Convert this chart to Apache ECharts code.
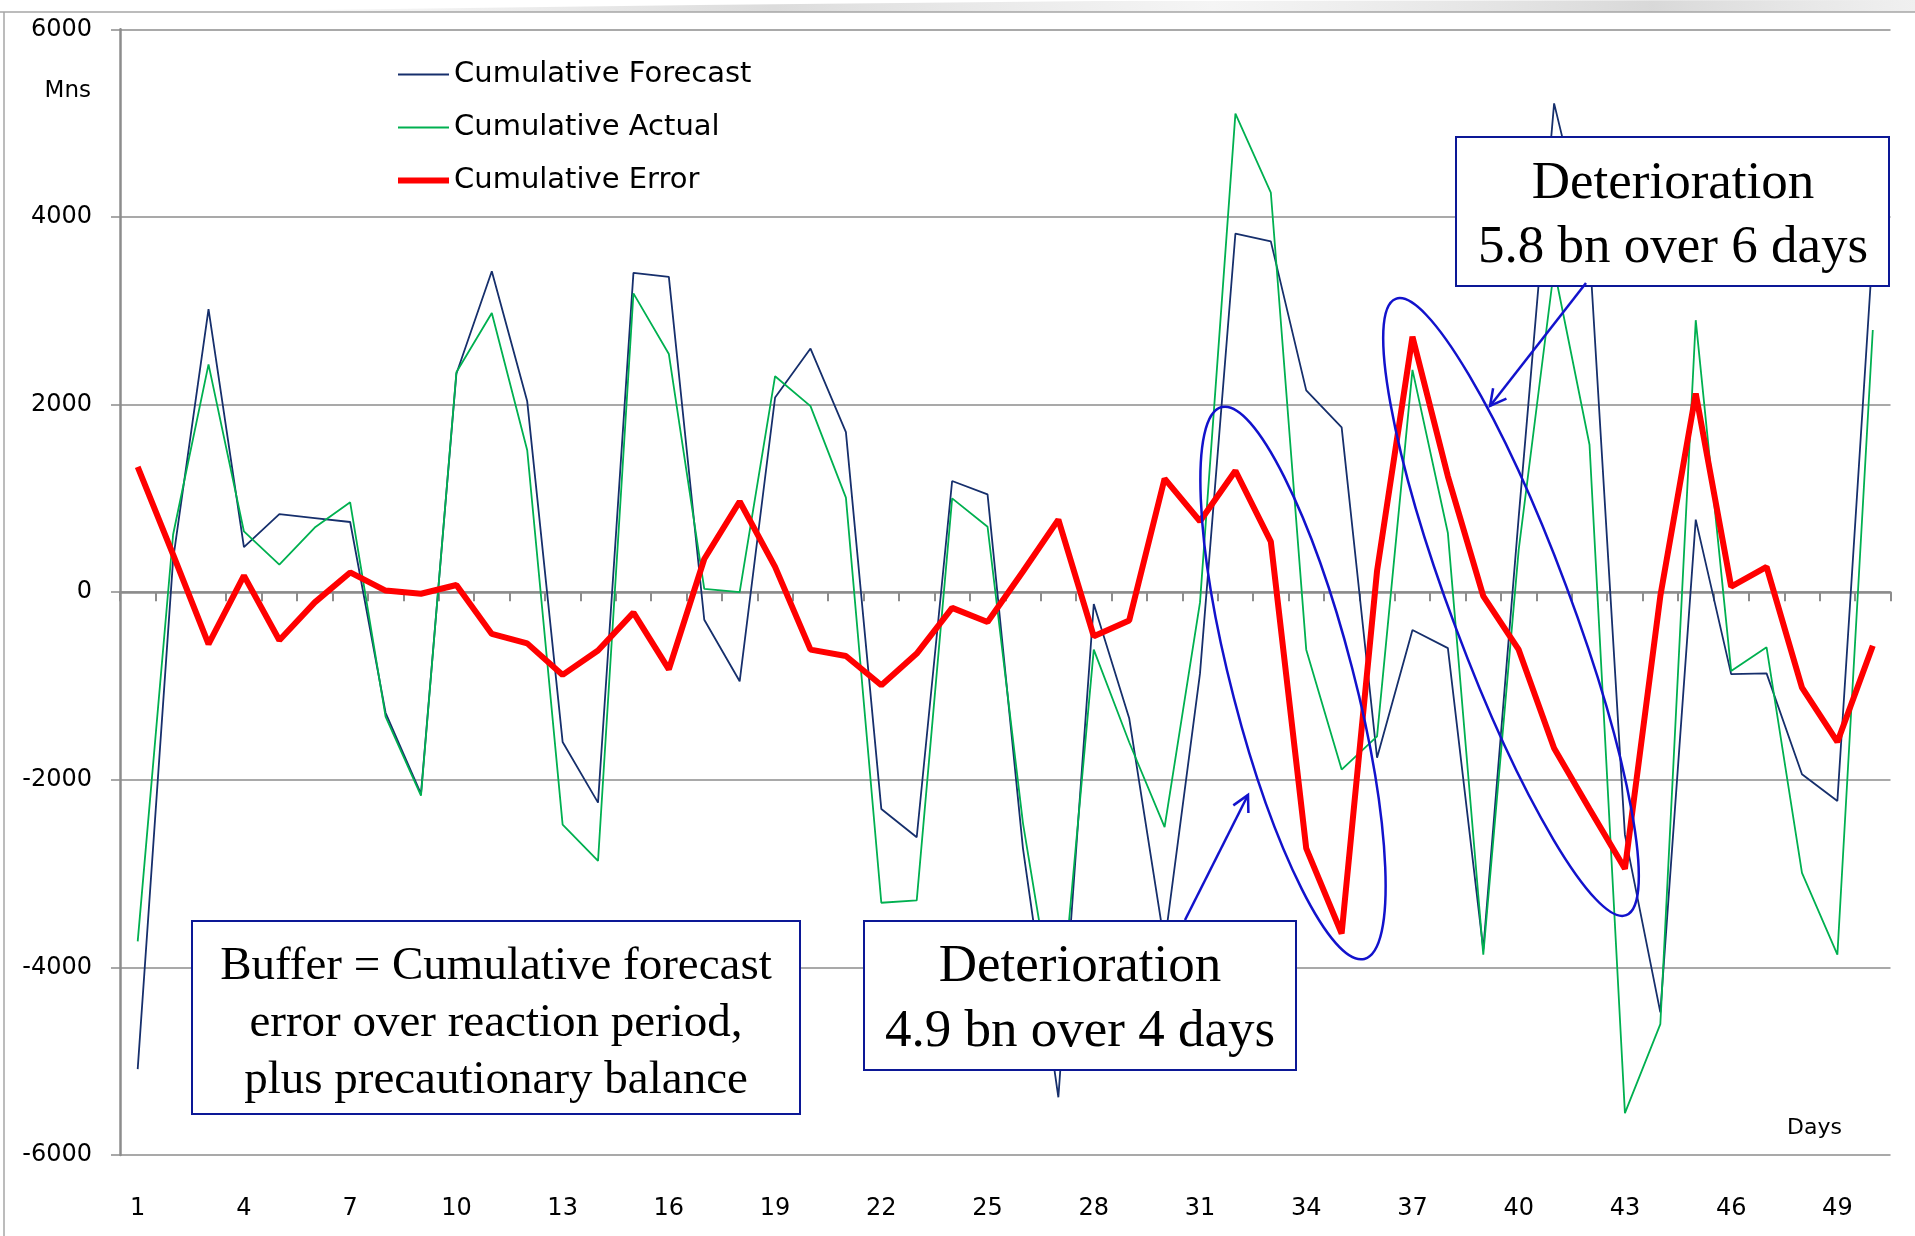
<!DOCTYPE html>
<html>
<head>
<meta charset="utf-8">
<script src="https://cdn.jsdelivr.net/npm/echarts@6/dist/echarts.min.js"></script>
<style>
html, body { margin: 0; padding: 0; background: #ffffff; }
#chart { width: 1915px; height: 1236px; }
</style>
</head>
<body>
<div id="chart"></div>
<script>
// ---------------- data ----------------
const days = [1, 2, 3, 4, 5, 6, 7, 8, 9, 10, 11, 12, 13, 14, 15, 16, 17, 18, 19, 20,
              21, 22, 23, 24, 25, 26, 27, 28, 29, 30, 31, 32, 33, 34, 35, 36, 37, 38, 39, 40,
              41, 42, 43, 44, 45, 46, 47, 48, 49, 50];

const cumulativeForecast = [-5084, 350, 3017, 479, 832, 790, 748, -1286, -2151, 2328,
                            3420, 2034, -1597, -2244, 3403, 3361, -294, -950, 2075, 2597,
                            1706, -2311, -2613, 1185, 1042, -2731, -5385, -126, -1344, -3750,
                            -866, 3823, 3739, 2151, 1756, -1765, -403, -597, -3807, 800,
                            5210, 3650, -2588, -4479, 773, -874, -866, -1941, -2227, 3650];

const cumulativeActual = [-3723, 615, 2428, 647, 294, 689, 958, -1328, -2170, 2344,
                          2975, 1513, -2479, -2865, 3185, 2538, 34, 0, 2302, 1983,
                          1008, -3311, -3286, 1000, 697, -2462, -4750, -613, -1600, -2504,
                          -109, 5101, 4260, -613, -1891, -1538, 2370, 630, -3865, 450,
                          3450, 1571, -5554, -4605, 2899, -840, -588, -2992, -3865, 2795];

const cumulativeError = [1336, 400, -555, 176, -513, -109, 210, 17, -17, 76,
                         -445, -546, -882, -622, -218, -823, 353, 966, 269, -613,
                         -681, -992, -655, -168, -319, 220, 773, -471, -303, 1210,
                         756, 1294, 538, -2731, -3639, 227, 2723, 1235, -42, -613,
                         -1664, -2311, -2949, -42, 2118, 59, 269, -1017, -1597, -571];

const seriesNames = ['Cumulative Forecast', 'Cumulative Actual', 'Cumulative Error'];
const yMin = -6000, yMax = 6000, yStep = 2000;
const yUnit = 'Mns';
const xTitle = 'Days';
const bufferNote = ['Buffer = Cumulative forecast', 'error over reaction period,', 'plus precautionary balance'];
const note4 = ['Deterioration', '4.9 bn over 4 days'];
const note6 = ['Deterioration', '5.8 bn over 6 days'];

// ---------------- styling ----------------
const SANS = "'DejaVu Sans', 'Open Sans', sans-serif";
const SERIF = "'Liberation Serif', 'DejaVu Serif', serif";
const GRAY = '#8c8c8c';
const BOX = '#0c1896';
const BLUE = '#1212cc';
const C_FORE = '#162f6c', C_ACT = '#00b050', C_ERR = '#ff0000';

function boxText(lines, cx, ys, size) {
  return lines.map((t, i) => ({
    type: 'text', x: cx, y: ys[i], z: 102,
    style: { text: t, fontFamily: SERIF, fontSize: size, fill: '#000', align: 'center', verticalAlign: 'middle' }
  }));
}
function arrow(x1, y1, x2, y2, len, ang) {
  const dx = x2 - x1, dy = y2 - y1, L = Math.hypot(dx, dy), ux = dx / L, uy = dy / L;
  const barb = a => [x2 - len * (ux * Math.cos(a) - uy * Math.sin(a)),
                     y2 - len * (ux * Math.sin(a) + uy * Math.cos(a))];
  return [
    { type: 'line', z: 103, shape: { x1, y1, x2, y2 }, style: { stroke: BLUE, lineWidth: 2.5 } },
    { type: 'polyline', z: 103, shape: { points: [barb(ang), [x2, y2], barb(-ang)] },
      style: { stroke: BLUE, lineWidth: 2.5, fill: null } }
  ];
}
const deg = Math.PI / 180;

const graphics = [
  // outer frame
  { type: 'polygon', z: 1, shape: { points: [[160, 12], [700, 5], [1100, 1], [1915, 0], [1915, 12]] },
    style: { fill: { type: 'linear', x: 0, y: 0, x2: 1, y2: 0,
      colorStops: [{ offset: 0, color: 'rgba(215,215,215,0)' }, { offset: 0.35, color: 'rgba(205,205,205,0.7)' },
                   { offset: 0.6, color: 'rgba(235,235,235,0.5)' }, { offset: 0.85, color: 'rgba(200,200,200,0.7)' },
                   { offset: 1, color: 'rgba(225,225,225,0.5)' }] } } },
  { type: 'line', z: 2, shape: { x1: 0, y1: 12, x2: 1915, y2: 12 }, style: { stroke: '#a6a6a6', lineWidth: 1.5 } },
  { type: 'line', z: 2, shape: { x1: 4, y1: 12, x2: 4, y2: 1236 }, style: { stroke: '#a6a6a6', lineWidth: 1.5 } },
  // axis titles
  { type: 'text', x: 91, y: 91, z: 5, style: { text: yUnit, fontFamily: SANS, fontSize: 23, fill: '#000', align: 'right', verticalAlign: 'middle' } },
  { type: 'text', x: 1787, y: 1128, z: 5, style: { text: xTitle, fontFamily: SANS, fontSize: 22, fill: '#000', align: 'left', verticalAlign: 'middle' } },
  // boxes
  { type: 'rect', z: 100, shape: { x: 192, y: 921, width: 608, height: 193 }, style: { fill: '#fff', stroke: BOX, lineWidth: 2 } },
  { type: 'rect', z: 100, shape: { x: 864, y: 921, width: 432, height: 149 }, style: { fill: '#fff', stroke: BOX, lineWidth: 2 } },
  { type: 'rect', z: 100, shape: { x: 1456, y: 137, width: 433, height: 149 }, style: { fill: '#fff', stroke: BOX, lineWidth: 2 } },
  ...boxText(bufferNote, 496, [967, 1024, 1081], 47),
  ...boxText(note4, 1080, [967.5, 1032.5], 53),
  ...boxText(note6, 1673, [184, 248], 53),
  // ellipses
  { type: 'ellipse', z: 101, x: 1293, y: 683, rotation: 14.5 * deg, shape: { cx: 0, cy: 0, rx: 61, ry: 285 },
    style: { fill: null, stroke: BLUE, lineWidth: 2.5 } },
  { type: 'ellipse', z: 101, x: 1511, y: 607, rotation: 20.5 * deg, shape: { cx: 0, cy: 0, rx: 59, ry: 329 },
    style: { fill: null, stroke: BLUE, lineWidth: 2.5 } },
  ...arrow(1185, 920, 1248, 795, 18, 28 * deg),
  ...arrow(1586, 283, 1490, 406, 18, 28 * deg)
];

const chart = echarts.init(document.getElementById('chart'));
chart.setOption({
  animation: false,
  backgroundColor: '#ffffff',
  grid: { left: 120, right: 24.5, top: 29.3, bottom: 81 },
  legend: {
    orient: 'vertical', left: 398, top: 60, padding: 0,
    itemWidth: 51, itemHeight: 29, itemGap: 24,
    symbolKeepAspect: true,
    data: [
      { name: seriesNames[0], icon: 'path://M0 0H100V4H0Z' },
      { name: seriesNames[1], icon: 'path://M0 0H100V4H0Z' },
      { name: seriesNames[2], icon: 'path://M0 0H100V12H0Z' }
    ],
    textStyle: { fontFamily: SANS, fontSize: 29, color: '#000' }
  },
  xAxis: [
    {
      type: 'category', data: days, position: 'bottom', boundaryGap: true,
      axisLine: { show: false, onZero: false },
      axisTick: { show: false },
      splitLine: { show: false },
      axisLabel: { interval: 2, margin: 41.5, fontFamily: SANS, fontSize: 24, color: '#000' }
    },
    {
      type: 'category', data: days, position: 'bottom', boundaryGap: true,
      axisLine: { show: true, onZero: true, onZeroAxisIndex: 0, lineStyle: { color: GRAY, width: 2.5 } },
      axisTick: { show: true, interval: 0, length: 9, lineStyle: { color: GRAY, width: 2 } },
      axisLabel: { show: false },
      splitLine: { show: false }
    }
  ],
  yAxis: {
    type: 'value', min: yMin, max: yMax, interval: yStep,
    axisLine: { show: true, onZero: false, lineStyle: { color: GRAY, width: 2.5 } },
    axisTick: { show: true, length: 9, lineStyle: { color: GRAY, width: 1.5 } },
    splitLine: { show: true, lineStyle: { color: GRAY, width: 1.5 } },
    axisLabel: { margin: 28, fontFamily: SANS, fontSize: 24, color: '#000', formatter: v => String(v) }
  },
  series: [
    { name: seriesNames[0], type: 'line', data: cumulativeForecast, symbol: 'none', z: 3,
      lineStyle: { color: C_FORE, width: 1.8 }, itemStyle: { color: C_FORE } },
    { name: seriesNames[1], type: 'line', data: cumulativeActual, symbol: 'none', z: 4,
      lineStyle: { color: C_ACT, width: 1.8 }, itemStyle: { color: C_ACT } },
    { name: seriesNames[2], type: 'line', data: cumulativeError, symbol: 'none', z: 5,
      lineStyle: { color: C_ERR, width: 6 }, itemStyle: { color: C_ERR } }
  ],
  graphic: graphics
});
</script>
</body>
</html>
